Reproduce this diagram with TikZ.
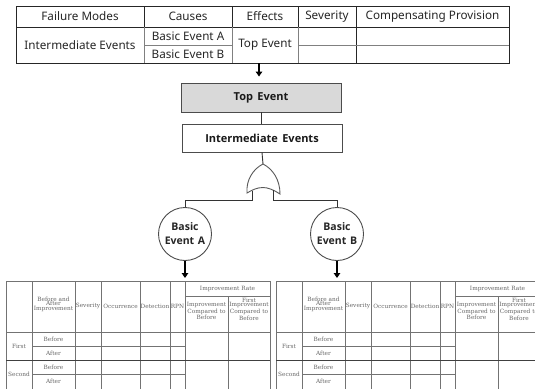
\documentclass[tikz,border=0pt]{standalone}
\usepackage{fontspec}
\setmainfont{Noto Sans}
\newfontfamily\cellserif{DejaVu Serif}
\newfontfamily\eventsans{Open Sans}
\usetikzlibrary{arrows.meta}

\tikzset{
  rule/.style={draw=black!85, line width=0.8pt},
  softrule/.style={draw=black!50, line width=0.8pt},
  gridrule/.style={draw=black!55, line width=0.7pt},
  headtxt/.style={font=\fontsize{11.7}{12}\selectfont, text=black!85, inner sep=0pt},
  eventbox/.style={draw=black!70, line width=0.9pt, minimum width=160pt, font=\eventsans\bfseries\fontsize{11}{12}\selectfont, text=black!90},
  basicevent/.style={circle, draw=black!70, line width=0.9pt, fill=white, minimum size=53pt, inner sep=0pt, align=center, font=\eventsans\bfseries\fontsize{10.5}{14}\selectfont, text=black!85},
  wire/.style={draw=black!80, line width=0.9pt},
  flow/.style={draw=black, line width=1.8pt, -{Triangle[length=5pt,width=6.5pt]}},
  celltxt/.style={font=\cellserif\fontsize{5.8}{4.6}\selectfont, text=black!60, align=center, inner sep=0pt},
}

\begin{document}
\begin{tikzpicture}[x=1pt,y=-1pt]
\useasboundingbox (0,0) rectangle (535,388);
\clip (0,0) rectangle (535,388);

% ---------- FMEA summary table ----------
\draw[rule] (16,6) rectangle (509,63);
\draw[rule] (16,27) -- (509,27);
\foreach \x in {144,232,298,356} \draw[rule] (\x,6) -- (\x,27);
\draw[softrule] (144,27) -- (144,63) (232,27) -- (232,63) (298,27) -- (298,63);
\draw[rule] (356,27) -- (356,63);
\draw[softrule] (144,45) -- (232,45) (298,45) -- (509,45);

\node[headtxt] (hFail) at (80,16.5) {Failure Modes};
\node[headtxt] (hCause) at (188,16.5) {Causes};
\node[headtxt] (hEff) at (265,16.5) {Effects};
\node[headtxt] (hSev) at (327,16.5) {Severity};
\node[headtxt] (hComp) at (432.5,16.5) {Compensating Provision};
\node[headtxt] (cInter) at (80,45) {Intermediate Events};
\node[headtxt] (cA) at (188,36) {Basic Event A};
\node[headtxt] (cB) at (188,54) {Basic Event B};
\node[headtxt] (cTop) at (265,45) {Top Event};
\coordinate (tabout) at (259,63);

% ---------- fault tree ----------
\node[eventbox, fill=black!15, minimum height=29pt] (top) at (261,97.5) {Top\hspace{0.4em}Event};
\node[eventbox, fill=white, minimum height=28pt] (inter) at (262,138) {Intermediate\hspace{0.4em}Events};

\draw[flow, shorten >=6pt] (tabout) -- (tabout |- top.north);
\draw[wire] (top.south) -- (inter.north -| top.south);

% OR gate
\coordinate (gtop) at (263,164);
\coordinate (gl) at (252,190.5);
\coordinate (gr) at (273,190);
\draw[draw=black!65, line width=0.9pt, fill=white]
  (247,193) .. controls (246,180) and (253,169) .. (263,164)
  .. controls (273,169) and (280,180) .. (280,194)
  .. controls (274,190) and (268,187.5) .. (263,187.5)
  .. controls (257,187.5) and (252,190) .. (247,193) -- cycle;
\draw[wire] (inter.south) -- (gtop);

\node[basicevent] (A) at (185,234) {Basic\\Event\hspace{0.35em}A};
\node[basicevent] (B) at (337,234) {Basic\\Event\hspace{0.35em}B};
\draw[wire] (gl) -- ++(0,10) -| (A.north);
\draw[wire] (gr) -- ++(0,10.5) -| (B.north);

\coordinate (tabA) at (185,281);
\coordinate (tabB) at (337,281);
\draw[flow, shorten >=3pt] (A.south) -- (tabA);
\draw[flow, shorten >=3pt] (B.south) -- (tabB);

% ---------- improvement tables ----------
\foreach \s/\o in {A/0, B/270} {
\begin{scope}[xshift=\o]
  \draw[gridrule] (6,392) -- (6,281) -- (270,281) -- (270,392);
  \foreach \x in {32,75,101,140,170,185} \draw[gridrule] (\x,281) -- (\x,392);
  \draw[gridrule] (228,296) -- (228,392);
  \draw[gridrule] (185,296) -- (270,296);
  \draw[gridrule] (6,332) -- (270,332);
  \draw[gridrule] (32,346) -- (185,346);
  \draw[gridrule, draw=black!75, line width=0.9pt] (6,360) -- (270,360);
  \draw[gridrule] (32,374) -- (185,374);

  \node[celltxt] (ba\s) at (53.5,304) {Before and\\After\\Improvement};
  \node[celltxt] (sev\s) at (88,306) {Severity};
  \node[celltxt] (occ\s) at (120.5,306) {Occurrence};
  \node[celltxt] (det\s) at (155,306) {Detection};
  \node[celltxt] (rpn\s) at (177.5,306) {RPN};
  \node[celltxt] (rate\s) at (227.5,288.5) {Improvement Rate};
  \node[celltxt] (imp\s) at (206.5,311) {Improvement\\Compared to\\Before};
  \node[celltxt] (fimp\s) at (249,309) {First\\Improvement\\Compared to\\Before};
  \node[celltxt] (first\s) at (19,346) {First};
  \node[celltxt] (second\s) at (19,374) {Second};
  \node[celltxt] (b1\s) at (53.5,339) {Before};
  \node[celltxt] (a1\s) at (53.5,353) {After};
  \node[celltxt] (b2\s) at (53.5,367) {Before};
  \node[celltxt] (a2\s) at (53.5,381) {After};
\end{scope}
}
\end{tikzpicture}
\end{document}
